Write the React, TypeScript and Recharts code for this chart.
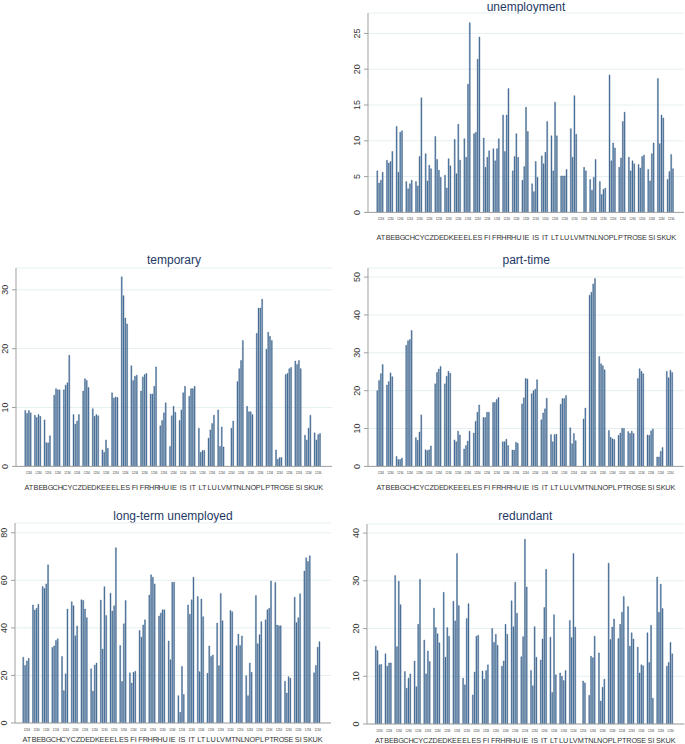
import React from "react";
import { Bar, BarChart, CartesianGrid, XAxis, YAxis } from "recharts";

const FONT = "'Liberation Sans', Arial, sans-serif";

const countries = ["AT", "BE", "BG", "CH", "CY", "CZ", "DE", "DK", "EE", "EL", "ES", "FI", "FR", "HR", "HU", "IE", "IS", "IT", "LT", "LU", "LV", "MT", "NL", "NO", "PL", "PT", "RO", "SE", "SI", "SK", "UK"];
const groupLabel = "1234";

type Quad = (number | null)[];

// one row per country, four bars each (groups 1..4)
const unemployment: Quad[] = [
  [5.8, 4.1, 4.5, 5.6], [7.3, 6.9, 7.1, 8.5], [12.0, 5.6, 11.2, 11.4], [4.3, 3.3, 4.0, 4.5],
  [4.3, 3.7, 7.8, 16.0], [8.2, 4.4, 6.6, 6.1], [10.6, 7.4, 5.9, 4.9], [5.2, 3.4, 7.5, 6.5],
  [10.2, 5.4, 12.3, 7.3], [10.3, 7.7, 17.9, 26.5], [11.0, 11.2, 21.4, 24.5], [10.4, 6.3, 7.7, 8.6],
  [8.9, 7.2, 8.9, 10.3], [13.6, 8.5, 13.6, 17.3], [5.8, 7.8, 11.0, 7.7], [4.5, 6.4, 14.7, 11.3],
  [4.0, 2.9, 7.1, 4.9], [7.9, 6.8, 8.4, 12.7], [10.7, 5.8, 15.4, 10.7], [5.1, 5.1, 5.1, 6.0],
  [11.7, 7.7, 16.3, 10.9], [null, null, 6.3, 5.8], [4.6, 3.1, 4.9, 7.4], [4.3, 2.5, 3.2, 3.4],
  [19.2, 7.2, 9.7, 9.0], [6.3, 7.6, 12.7, 14.0], [7.7, 5.8, 7.2, 6.8], [6.7, 6.2, 7.8, 8.0],
  [6.0, 4.4, 8.2, 9.7], [18.7, 9.6, 13.6, 13.2], [4.6, 5.7, 8.1, 6.1],
];

const temporary: Quad[] = [
  [9.5, 9.0, 9.5, 9.1], [8.7, 8.3, 8.8, 8.5], [7.9, 4.0, 4.0, 5.2], [12.1, 13.2, 13.0, 13.0],
  [13.0, 13.8, 14.2, 18.9], [8.8, 7.2, 7.7, 8.8], [12.8, 14.9, 14.6, 13.4], [9.8, 8.5, 8.8, 8.6],
  [2.8, 2.4, 4.5, 3.1], [12.5, 11.6, 11.8, 11.7], [32.2, 29.0, 25.2, 24.2], [17.1, 14.6, 15.3, 15.5],
  [12.8, 15.2, 15.6, 15.8], [12.3, 12.3, 13.6, 16.9], [6.9, 7.8, 9.1, 10.8], [3.4, 8.6, 10.2, 9.2],
  [7.8, 9.6, 12.5, 13.6], [11.9, 13.2, 13.2, 13.6], [6.5, 2.4, 2.7, 2.7], [4.8, 6.2, 7.3, 8.7],
  [9.6, 3.4, 6.7, 3.3], [null, null, 6.5, 7.7], [14.4, 16.6, 18.0, 21.4], [10.2, 9.3, 9.3, 8.8],
  [22.6, 26.9, 26.9, 28.4], [19.9, 22.8, 22.1, 21.4], [2.8, 1.2, 1.5, 1.5], [15.6, 15.8, 16.6, 16.8],
  [17.9, 17.3, 18.0, 16.6], [5.3, 4.5, 6.5, 8.7], [5.7, 4.5, 5.4, 5.6],
];

const partTime: Quad[] = [
  [20.0, 22.7, 24.5, 26.9], [21.5, 22.4, 24.7, 23.7], [2.6, 1.8, 1.8, 2.2], [32.0, 33.2, 33.5, 35.9],
  [7.6, 6.9, 9.1, 13.6], [4.4, 4.2, 4.4, 5.4], [21.8, 24.8, 25.7, 26.4], [21.8, 23.8, 25.1, 24.6],
  [7.0, 6.5, 9.3, 8.3], [4.6, 5.5, 6.7, 9.3], [8.8, 11.9, 14.3, 16.2], [12.9, 12.9, 14.3, 14.3],
  [16.9, 16.9, 17.7, 18.2], [6.5, 6.5, 7.2, 5.5], [4.3, 4.3, 6.4, 6.1], [16.5, 18.1, 23.2, 23.1],
  [19.2, 20.0, 20.4, 22.9], [12.3, 14.1, 15.2, 18.0], [8.4, 6.5, 8.4, 8.5], [16.4, 17.9, 17.9, 18.7],
  [10.2, 6.0, 8.7, 6.8], [null, null, 12.5, 15.4], [45.2, 46.0, 48.2, 49.6], [29.0, 27.1, 26.6, 25.5],
  [9.5, 7.7, 7.3, 7.1], [8.2, 8.8, 10.1, 10.0], [9.2, 8.7, 9.3, 8.7], [23.2, 25.8, 25.1, 24.5],
  [8.3, 8.2, 9.4, 9.9], [2.5, 2.5, 4.0, 5.0], [25.1, 23.4, 25.4, 24.8],
];

const longTerm: Quad[] = [
  [27.7, 24.2, 26.1, 27.2], [49.6, 47.5, 48.3, 49.9], [57.4, 56.6, 58.5, 66.5], [31.8, 32.4, 34.7, 35.4],
  [28.0, 13.6, 20.7, 47.9], [51.0, 49.3, 36.7, 40.8], [51.8, 51.5, 47.9, 44.3], [22.8, 13.4, 24.4, 25.2],
  [51.7, 31.1, 57.3, 45.2], [54.6, 47.1, 49.3, 73.7], [32.6, 17.4, 41.7, 51.5], [21.1, 16.8, 21.3, 21.8],
  [38.9, 36.1, 41.2, 43.4], [53.8, 62.3, 61.3, 58.5], [45.0, 46.2, 47.6, 47.6], [34.5, 26.6, 59.2, 59.2],
  [11.5, 4.5, 23.8, 12.0], [49.6, 45.7, 51.8, 61.3], [53.2, 21.6, 52.1, 44.7], [20.9, 32.4, 28.0, 28.6],
  [42.0, 24.1, 54.5, 43.0], [null, null, 47.3, 46.8], [32.5, 37.4, 32.6, 36.6], [19.9, 11.5, 25.2, 21.3],
  [53.6, 33.3, 37.1, 42.6], [43.4, 47.6, 48.3, 59.7], [59.1, 41.2, 40.9, 40.9], [17.6, 12.6, 19.5, 18.8],
  [52.9, 42.2, 44.3, 54.3], [63.9, 69.5, 67.9, 70.3], [21.1, 24.2, 31.9, 34.2],
];

const redundant: Quad[] = [
  [16.3, 15.4, 12.4, 12.5], [14.7, 12.1, 12.8, 12.8], [31.1, 16.2, 29.9, 25.0], [11.0, 7.5, 9.6, 10.5],
  [13.2, 7.8, 20.9, 30.3], [17.6, 10.5, 15.3, 13.1], [24.3, 20.2, 18.9, 17.0], [27.6, 14.0, 20.2, 18.4],
  [25.7, 21.6, 35.7, 24.8], [9.6, 8.2, 22.1, 25.2], [6.1, 10.9, 18.4, 18.6], [11.1, 9.4, 11.2, 12.4],
  [20.0, 17.1, 18.8, 16.5], [12.1, 13.2, 20.9, 18.8], [25.8, 20.4, 29.7, 23.2], [14.1, 18.3, 38.7, 28.7],
  [11.2, 8.0, 20.4, 14.0], [13.4, 17.8, 24.4, 32.4], [18.2, 6.6, 22.9, 10.3], [10.7, 10.0, 9.1, 11.2],
  [21.7, 18.1, 35.7, 20.3], [null, null, 9.0, 8.6], [6.0, 14.2, 13.9, 18.4], [14.9, 4.8, 7.7, 9.4],
  [33.7, 17.7, 20.3, 22.0], [17.9, 20.9, 23.4, 26.7], [24.6, 16.3, 19.1, 17.8], [16.1, 10.7, 12.4, 12.2],
  [19.1, 12.9, 20.7, 5.4], [30.8, 23.4, 29.3, 24.2], [12.1, 12.9, 17.1, 14.7],
];

const unemploymentTicks = [0, 5, 10, 15, 20, 25];
const temporaryTicks = [0, 10, 20, 30];
const partTimeTicks = [0, 10, 20, 30, 40, 50];
const longTermTicks = [0, 20, 40, 60, 80];
const redundantTicks = [0, 10, 20, 30, 40];

const BAR_FILL = "#4f769e";
const BAR_EDGE = "#2b5580";
const AXIS = "#a0a0a0";
const GRID = "#e6eff1";
const TEXT = "#333333";
const TITLE = "#1f3a66";

type Panel = {
  title: string;
  values: Quad[];
  ticks: number[];
  yMax: number;
  left: number; // plot area
  right: number;
  top: number;
  bottom: number;
  padL: number;
  padR: number;
  titleY: number;
  codeDy: number;
  countryDy: number;
};

const panels: Panel[] = [
  { title: "unemployment", values: unemployment, ticks: unemploymentTicks, yMax: 27.85,
    left: 368, right: 684, top: 13.3, bottom: 212.7, padL: 8, padR: 8, titleY: 10.5, codeDy: 7.6, countryDy: 28 },
  { title: "temporary", values: temporary, ticks: temporaryTicks, yMax: 33.7,
    left: 16, right: 332, top: 268.3, bottom: 466.7, padL: 8, padR: 9, titleY: 264, codeDy: 7.3, countryDy: 24 },
  { title: "part-time", values: partTime, ticks: partTimeTicks, yMax: 52.4,
    left: 368.3, right: 684, top: 268.3, bottom: 466.7, padL: 8, padR: 8.5, titleY: 264, codeDy: 7.3, countryDy: 24 },
  { title: "long-term unemployed", values: longTerm, ticks: longTermTicks, yMax: 84.1,
    left: 15, right: 331, top: 523.3, bottom: 723.3, padL: 7, padR: 8.5, titleY: 520, codeDy: 7.7, countryDy: 19.4 },
  { title: "redundant", values: redundant, ticks: redundantTicks, yMax: 41.9,
    left: 366.7, right: 684, top: 524, bottom: 724, padL: 7.5, padR: 9, titleY: 520, codeDy: 7.7, countryDy: 18.7 },
];

const YW = 40;
const XH = 32;
const MT = 4;

function YTick(props: any) {
  const { x, y, payload } = props;
  return (
    <text x={x} y={y} transform={`rotate(-90 ${x} ${y})`} textAnchor="middle"
      fontSize={9} fill={TEXT} fontFamily={FONT}>
      {payload.value}
    </text>
  );
}

function makeXTick(codeDy: number, countryDy: number) {
  return (props: any) => {
    const { x, y, payload } = props;
    return (
      <g>
        <text x={x} y={y + codeDy} textAnchor="middle" fontSize={2.8} fill={TEXT} fontFamily={FONT}>
          {groupLabel}
        </text>
        <text x={x} y={y + countryDy} textAnchor="middle" fontSize={7.3} fill={TEXT} fontFamily={FONT}>
          {payload.value}
        </text>
      </g>
    );
  };
}

function PanelChart({ p }: { p: Panel }) {
  const rows = countries.map((c, i) => ({
    country: c,
    g1: p.values[i][0],
    g2: p.values[i][1],
    g3: p.values[i][2],
    g4: p.values[i][3],
  }));
  const plotW = p.right - p.left;
  const plotH = p.bottom - p.top;
  const XTick = makeXTick(p.codeDy, p.countryDy);
  return (
    <div style={{ position: "absolute", left: p.left - YW, top: p.top - MT }}>
      <BarChart
        width={YW + plotW + 1}
        height={MT + plotH + XH}
        data={rows}
        margin={{ top: MT, right: 1, left: 0, bottom: 0 }}
        barCategoryGap="8%"
        barGap={0.8}
      >
        <CartesianGrid vertical={false} stroke={GRID} strokeWidth={1} />
        <XAxis
          dataKey="country"
          interval={0}
          tickLine={false}
          tickSize={0}
          tickMargin={0}
          height={XH}
          padding={{ left: p.padL, right: p.padR }}
          axisLine={{ stroke: AXIS }}
          tick={<XTick />}
        />
        <YAxis
          type="number"
          domain={[0, p.yMax]}
          ticks={p.ticks}
          width={YW}
          tickSize={4}
          tickMargin={4}
          tickLine={{ stroke: AXIS }}
          axisLine={{ stroke: AXIS }}
          tick={<YTick />}
          allowDataOverflow
        />
        {["g1", "g2", "g3", "g4"].map((k) => (
          <Bar key={k} dataKey={k} fill={BAR_FILL} stroke={BAR_EDGE} strokeWidth={0.35} isAnimationActive={false} />
        ))}
      </BarChart>
    </div>
  );
}

export default function App() {
  return (
    <div style={{ position: "absolute", left: 0, top: 0, width: 685, height: 744, overflow: "hidden", background: "#fff" }}>
      <svg width={685} height={744} style={{ position: "absolute", left: 0, top: 0 }}>
        {panels.map((p) => (
          <text key={p.title} x={(p.left + p.right) / 2} y={p.titleY} textAnchor="middle"
            fontSize={12} fill={TITLE} fontFamily={FONT}>
            {p.title}
          </text>
        ))}
      </svg>
      {panels.map((p) => (
        <PanelChart key={p.title} p={p} />
      ))}
    </div>
  );
}
